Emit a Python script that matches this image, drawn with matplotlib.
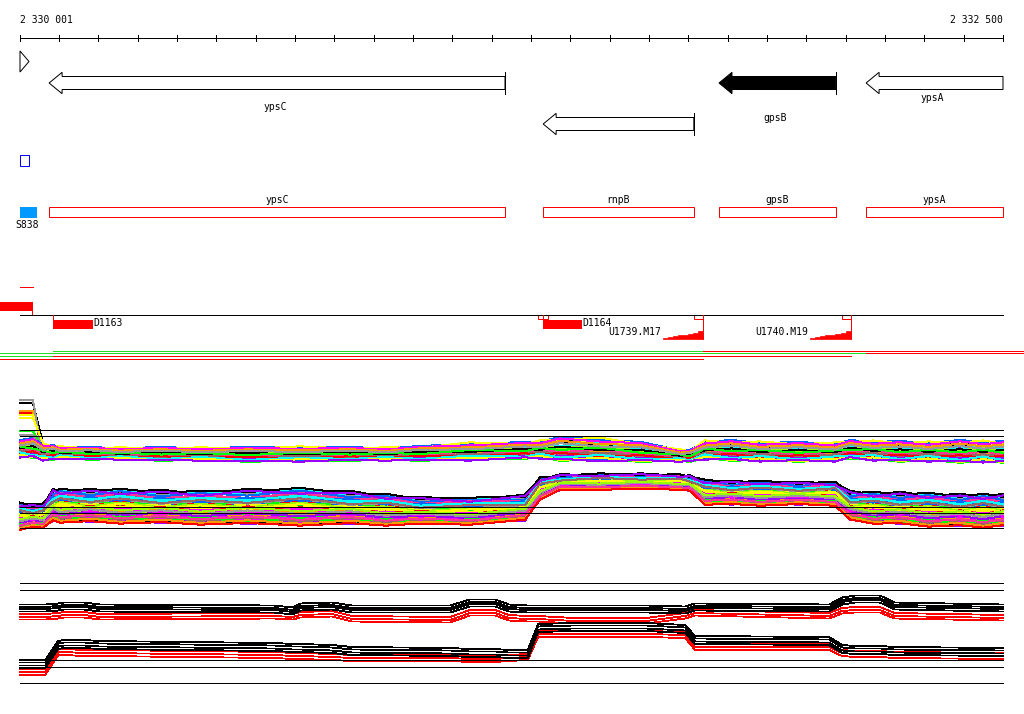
import numpy as np
import matplotlib
matplotlib.use("Agg")
import matplotlib.pyplot as plt
import matplotlib.patches as patches

# ---- region shown -------------------------------------------------------
START, END = 2330001, 2332500
PX0, PX1 = 20, 1003                      # where START / END sit in the picture
BP_PER_PX = (END - START) / (PX1 - PX0)
XLIM = (START - PX0 * BP_PER_PX, START + (1024 - PX0) * BP_PER_PX)

# ---- annotation tracks --------------------------------------------------
GENE_NAMES = ["ypsC", "rnpB", "gpsB", "ypsA"]
GENE_START = [2330075, 2331331, 2331778, 2332152]
GENE_END = [2331234, 2331714, 2332075, 2332500]
GENE_ROW = [0, 1, 0, 0]
GENE_FILLED = [False, False, True, False]
GENE_LABEL_Y = [107, None, 118, 98]

SITE_NAME = "S838"
SITE_START, SITE_END = 2330001, 2330044

SEG_NAMES = ["D1163", "D1164"]
SEG_START = [2330085, 2331331]
SEG_END = [2330187, 2331430]

TSS_NAMES = ["U1739.M17", "U1740.M19"]
TSS_START = [2331636, 2332009]
TSS_END = [2331737, 2332113]
RAMP_STEPS = [0.7, 1.5, 2.3, 3.2, 4.0, 5.0, 6.0, 7.5]

# coloured coverage lines under the segment track: (y, [(from, to, colour)])
COVER_ROWS = [
    (351, [(2330085, 2331737, "#22dd22"), (2331737, XLIM[1], "#ff0000")]),
    (353, [(XLIM[0], 2332152, "#22dd22"), (2332152, XLIM[1], "#ff0000")]),
    (356, [(XLIM[0], 2330085, "#22dd22"), (2330085, 2332113, "#ff0000")]),
    (359, [(XLIM[0], 2331737, "#ff0000")]),
]

# ---- expression panel 1 (many conditions) -------------------------------
X1 = [2330001, 2330034, 2330060, 2330085, 2330103, 2330180, 2330255, 2330360,
      2330459, 2330580, 2330713, 2330840, 2330930, 2331018, 2331145, 2331285,
      2331323, 2331374, 2331475, 2331580, 2331679, 2331704, 2331742, 2331810,
      2331882, 2331980, 2332073, 2332111, 2332170, 2332238, 2332310, 2332391,
      2332450, 2332500]
UP_TOP = [10.2, 10.2, 9.7, 9.5, 9.4, 9.3, 9.3, 9.3, 9.3, 9.3, 9.4, 9.3,
          9.3, 9.4, 9.8, 9.8, 10.0, 10.3, 10.3, 9.8, 9.1, 9.0, 10.0, 10.0,
          9.9, 9.8, 9.8, 10.0, 10.0, 9.9, 9.9, 10.0, 10.0, 9.9]
UP_BOT = [8.2, 8.2, 7.9, 8.0, 8.1, 8.0, 8.0, 7.9, 7.9, 7.8, 7.8, 7.9,
          7.9, 7.9, 7.9, 8.1, 8.1, 7.9, 7.8, 7.8, 7.8, 7.8, 8.0, 7.9,
          7.8, 7.8, 7.8, 8.1, 7.9, 7.8, 7.8, 7.7, 7.7, 7.7]
LO_TOP = [3.8, 3.7, 3.7, 5.2, 5.2, 5.2, 5.2, 5.1, 5.0, 5.2, 5.3, 5.0,
          4.7, 4.4, 4.3, 4.6, 6.3, 6.6, 6.7, 6.7, 6.6, 6.5, 6.1, 6.0,
          6.0, 5.9, 5.9, 5.0, 4.9, 4.9, 4.8, 4.7, 4.7, 4.7]
LO_BOT = [1.0, 1.1, 1.2, 1.7, 1.7, 1.6, 1.6, 1.5, 1.5, 1.4, 1.4, 1.4,
          1.4, 1.4, 1.5, 1.8, 4.0, 4.9, 5.0, 5.0, 5.0, 4.8, 3.5, 3.4,
          3.4, 3.4, 3.4, 1.8, 1.6, 1.4, 1.3, 1.2, 1.2, 1.2]
UP_FA = [0.55, 0.05, 0.30, 0.85, 0.60, 0.70, 0.40, 0.15, 0.95, 0.50, 0.25, 0.65,
         0.45, 0.80, 0.35, 0.90, 0.10, 0.75, 0.20, 0.58, 0.02, 0.68, 0.88, 0.48,
         0.62, 0.33, 0.78, 0.52, 0.42, 0.92, 0.18, 0.72, 0.28, 0.83, 0.38, 0.98]
UP_FB = [0.68, 0.14, 0.18, 0.74, 0.78, 0.55, 0.52, 0.26, 0.84, 0.36, 0.42, 0.48,
         0.60, 0.94, 0.22, 0.99, 0.00, 0.62, 0.38, 0.44, 0.12, 0.80, 0.76, 0.64,
         0.70, 0.46, 0.66, 0.40, 0.54, 0.88, 0.06, 0.86, 0.16, 0.96, 0.26, 0.90]
UP_START = [12.7, 13.7, 10.9, None, None, None, 12.9, 12.5, 14.0, None, None, None,
            None, None, None, None, None, None, None, None, 12.2, 10.5, None, None,
            None, None, None, None, None, None, None, None, None, None, None, None]
LO_FA = [0.50, 0.12, 0.78, 0.33, 0.91, 0.05, 0.64, 0.42, 0.27, 0.86, 0.58, 0.19,
         0.71, 0.38, 0.97, 0.46, 0.09, 0.82, 0.24, 0.67, 0.53, 0.31, 0.75, 0.15,
         0.88, 0.40, 0.61, 0.02, 0.79, 0.35, 0.56, 0.22, 0.94, 0.44, 0.69, 0.17,
         0.84, 0.29, 0.62, 0.99]
LO_FB = [0.60, 0.02, 0.68, 0.44, 0.82, 0.15, 0.54, 0.52, 0.16, 0.95, 0.47, 0.30,
         0.61, 0.49, 0.88, 0.35, 0.20, 0.72, 0.36, 0.76, 0.43, 0.41, 0.66, 0.26,
         0.78, 0.51, 0.50, 0.11, 0.89, 0.25, 0.65, 0.32, 0.85, 0.55, 0.59, 0.07,
         0.75, 0.39, 0.52, 0.92]
REF1 = [11.0, 10.4, 3.3, 2.7, 1.2]

# ---- expression panel 2 (summary, black / red) --------------------------
X2 = [2330001, 2330065, 2330098, 2330113, 2330164, 2330204, 2330647, 2330695,
      2330713, 2330794, 2330845, 2331094, 2331145, 2331209, 2331244, 2331292,
      2331318, 2331409, 2331592, 2331692, 2331717, 2332058, 2332091, 2332124,
      2332187, 2332225, 2332500]
P2_UP_BLACK = [8.3, 8.3, 8.4, 8.5, 8.5, 8.3, 8.2, 8.0, 8.4, 8.5, 8.2, 8.2, 8.8, 8.8,
               8.3, 8.2, 8.2, 8.2, 8.2, 8.1, 8.4, 8.3, 9.0, 9.2, 9.2, 8.5, 8.3]
P2_UP_RED = [7.5, 7.5, 7.6, 7.7, 7.7, 7.5, 7.6, 7.5, 7.7, 7.8, 7.3, 7.2, 7.9, 7.9,
             7.4, 7.3, 7.3, 7.1, 7.1, 7.6, 7.9, 7.6, 8.1, 8.2, 8.2, 7.6, 7.4]
P2_LO_BLACK = [2.7, 2.7, 4.6, 4.7, 4.7, 4.6, 4.4, 4.3, 4.3, 4.2, 4.0, 3.9, 3.8, 3.8,
               3.7, 3.7, 6.3, 6.4, 6.4, 6.2, 5.1, 5.0, 4.2, 4.1, 4.1, 4.0, 3.9]
P2_LO_RED = [1.9, 1.9, 3.9, 3.9, 3.8, 3.8, 3.6, 3.5, 3.5, 3.4, 3.3, 3.3, 3.2, 3.2,
             3.3, 3.4, 5.7, 5.7, 5.7, 5.6, 4.4, 4.4, 3.8, 3.7, 3.7, 3.6, 3.5]
OFF_UP_BLACK = [0.25, 0.0, -0.2, -0.45]
OFF_UP_RED = [0.1, -0.2, -0.45]
OFF_LO_BLACK = [0.3, 0.05, -0.25, -0.5]
OFF_LO_RED = [0.2, -0.1, -0.4]
REF2 = [10.7, 10.0, 3.0, 2.3, 0.7]

PALETTE = ["#ff0000", "#000000", "#00ff00", "#0066ff", "#ff00ff", "#00ffff",
           "#ff9900", "#ffff00", "#999999", "#9900ff", "#ff3399", "#996666",
           "#99ff00"]
FONT = dict(family="DejaVu Sans Mono", fontsize=7)
LW = 0.72          # one pixel
THIN = 0.6


def gene_arrow(ax, start, end, yc, filled, end_bar=True):
    head = 33
    bh, hh = 6.5, 10.7
    pts = [(start, yc), (start + head, yc - hh), (start + head, yc - bh),
           (end, yc - bh), (end, yc + bh), (start + head, yc + bh),
           (start + head, yc + hh)]
    ax.add_patch(patches.Polygon(pts, closed=True, lw=LW, edgecolor="black",
                                 facecolor="black" if filled else "white"))
    if end_bar:
        ax.plot([end, end], [yc - hh, yc + hh], color="black", lw=LW)


def cluster(ax, x, top, bot, fa, fb, starts=None):
    top, bot = np.array(top), np.array(bot)
    even = np.arange(len(x)) % 2 == 0
    for i, (a, b) in enumerate(zip(fa, fb)):
        y = top + np.where(even, a, b) * (bot - top)
        if starts is not None and starts[i] is not None:
            y[:2] = starts[i]
        ax.plot(x, y, color=PALETTE[i % len(PALETTE)], lw=LW, antialiased=False)


fig = plt.figure(figsize=(10.24, 7.14), dpi=100)
ax = fig.add_axes([0, 0, 1, 1])
ax.set_xlim(*XLIM)
ax.set_ylim(714, 0)
ax.axis("off")

# ruler
ax.plot([START, END], [38, 38], color="black", lw=LW)
ticks = [START] + list(range(2330100, END, 100)) + [END]
for t in ticks:
    ax.plot([t, t], [35, 41], color="black", lw=LW)
fmt = lambda v: f"{v:,}".replace(",", " ")
ax.text(START, 20, fmt(START), ha="left", va="center", **FONT)
ax.text(END, 20, fmt(END), ha="right", va="center", **FONT)

# strand marker, small blue box
tri_end = START + 9 * BP_PER_PX
ax.add_patch(patches.Polygon([(START, 51), (tri_end, 61.5), (START, 72)], closed=True,
                             facecolor="white", edgecolor="black", lw=LW))
ax.add_patch(patches.Rectangle((START, 155), 9 * BP_PER_PX, 11, facecolor="none",
                               edgecolor="#0000ff", lw=LW))

# gene arrows + gene boxes
row_y = [83, 124]
for name, s, e, r, filled, ly in zip(GENE_NAMES, GENE_START, GENE_END,
                                      GENE_ROW, GENE_FILLED, GENE_LABEL_Y):
    gene_arrow(ax, s, e, row_y[r], filled, end_bar=(e != END))
    if ly is not None:
        ax.text((s + e) / 2 - 5, ly, name, ha="center", va="center", **FONT)
    ax.add_patch(patches.Rectangle((s, 207), e - s, 10, facecolor="none",
                                   edgecolor="#ff0000", lw=LW))
    ax.text((s + e) / 2, 200, name, ha="center", va="center", **FONT)

ax.add_patch(patches.Rectangle((SITE_START, 207), SITE_END - SITE_START, 10.5,
                               facecolor="#0099ff", edgecolor="none"))
ax.text((SITE_START + SITE_END) / 2 - 3, 224.5, SITE_NAME, ha="center",
        va="center", **FONT)

# segment track
ax.plot([START, START + 13 * BP_PER_PX], [287, 287], color="#ff0000", lw=LW,
        antialiased=False)
ax.add_patch(patches.Rectangle((XLIM[0], 302), START + 13 * BP_PER_PX - XLIM[0], 8.5,
                               facecolor="#ff0000", edgecolor="none"))
ax.plot([START + 12 * BP_PER_PX] * 2, [310, 315], color="#ff0000", lw=LW)
ax.plot([START, END], [315, 315], color="black", lw=LW)

for i, (name, s, e) in enumerate(zip(SEG_NAMES, SEG_START, SEG_END)):
    ax.add_patch(patches.Rectangle((s, 319.5), e - s, 9, facecolor="#ff0000",
                                   edgecolor="none"))
    ax.plot([s, s], [315, 320], color="#ff0000", lw=LW)
    if i == 1:
        w = 5 * BP_PER_PX
        for x0 in (s - w, s):
            ax.add_patch(patches.Rectangle((x0, 315), w, 4, facecolor="none",
                                           edgecolor="#ff0000", lw=LW))
    ax.text(e, 323.5, name, ha="left", va="center", **FONT)

for name, s, e in zip(TSS_NAMES, TSS_START, TSS_END):
    n = len(RAMP_STEPS)
    xs = np.linspace(s, e, n + 1)
    base = 338.5
    pts = [(s, base)]
    for k, h in enumerate(RAMP_STEPS):
        pts += [(xs[k], base - h), (xs[k + 1], base - h)]
    pts.append((e, base))
    ax.add_patch(patches.Polygon(pts, closed=True, facecolor="#ff0000",
                                 edgecolor="#ff0000", lw=0.5))
    ax.plot([e, e], [315, base], color="#ff0000", lw=LW)
    ax.add_patch(patches.Rectangle((e - 9 * BP_PER_PX, 315), 9 * BP_PER_PX, 4,
                                   facecolor="none", edgecolor="#ff0000", lw=LW))
    ax.text(s - 2 * BP_PER_PX, 332, name, ha="right", va="center", **FONT)

for y, pieces in COVER_ROWS:
    for a, b, c in pieces:
        ax.plot([a, b], [y, y], color=c, lw=LW, antialiased=False)

# expression panel 1
ax1 = fig.add_axes([0, (714 - 540) / 714, 1, 150 / 714])
ax1.set_xlim(*XLIM)
ax1.set_ylim(0, 15)
ax1.axis("off")
cluster(ax1, X1, UP_TOP, UP_BOT, UP_FA, UP_FB, UP_START)
cluster(ax1, X1, LO_TOP, LO_BOT, LO_FA, LO_FB)
for v in REF1:
    ax1.plot([START, END], [v, v], color="black", lw=LW, zorder=5)

# expression panel 2
ax2 = fig.add_axes([0, (714 - 690) / 714, 1, 115 / 714])
ax2.set_xlim(*XLIM)
ax2.set_ylim(0, 11.5)
ax2.axis("off")
for prof, offs, col in [(P2_UP_RED, OFF_UP_RED, "#ff0000"),
                        (P2_UP_BLACK, OFF_UP_BLACK, "black"),
                        (P2_LO_RED, OFF_LO_RED, "#ff0000"),
                        (P2_LO_BLACK, OFF_LO_BLACK, "black")]:
    for o in offs:
        ax2.plot(X2, np.array(prof) + o, color=col, lw=THIN, antialiased=False)
for v in REF2:
    ax2.plot([START, END], [v, v], color="black", lw=LW)

fig.savefig("out.png", dpi=100)
